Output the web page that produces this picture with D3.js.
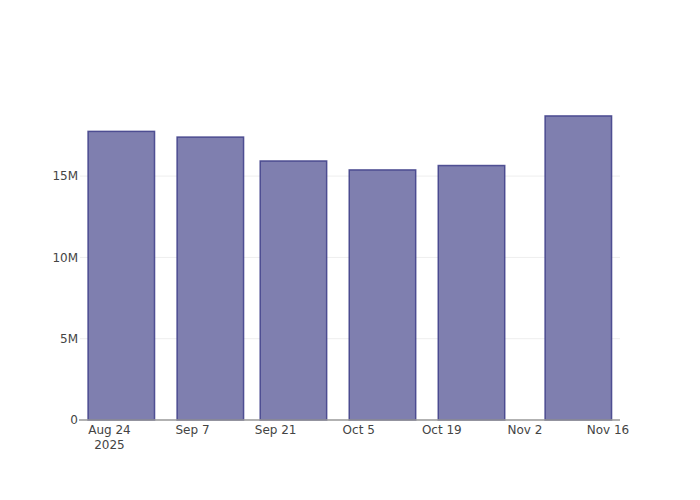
<!DOCTYPE html>
<html>
<head>
<meta charset="utf-8">
<script src="https://cdn.jsdelivr.net/npm/d3@7"></script>
<style>
  html, body { margin: 0; padding: 0; background: #fff; }
  svg text { font-family: "DejaVu Sans", verdana, arial, sans-serif; }
</style>
</head>
<body>
<svg id="chart" width="700" height="500"></svg>
<script>
// Data
const dates = ["2025-08-26", "2025-09-10", "2025-09-24", "2025-10-09", "2025-10-24", "2025-11-11"];
const values = [17.75e6, 17.4e6, 15.93e6, 15.38e6, 15.65e6, 18.7e6];
const xTickDates = ["2025-08-24", "2025-09-07", "2025-09-21", "2025-10-05", "2025-10-19", "2025-11-02", "2025-11-16"];
const xRange = ["2025-08-19T01:00", "2025-11-18T00:30"];
const yTicks = [0, 5e6, 10e6, 15e6];
const yMax = 19.68e6;

const parse = d3.isoParse;
const W = 700, H = 500;
const m = { l: 80, r: 80, t: 100, b: 80 };
const svg = d3.select("#chart");

const x = d3.scaleTime().domain(xRange.map(parse)).range([m.l, W - m.r]);
const y = d3.scaleLinear().domain([0, yMax]).range([H - m.b, m.t]);

// gridlines
svg.append("g").selectAll("line").data(yTicks.filter(d => d > 0)).join("line")
  .attr("x1", m.l).attr("x2", W - m.r)
  .attr("y1", d => y(d)).attr("y2", d => y(d))
  .attr("stroke", "#eee").attr("stroke-width", 1);

// bars: width = min spacing * 0.8
const ds = dates.map(parse);
let minGap = Infinity;
for (let i = 1; i < ds.length; i++) minGap = Math.min(minGap, ds[i] - ds[i - 1]);
const halfW = minGap * 0.4;

svg.append("g").selectAll("rect").data(values).join("rect")
  .attr("x", (d, i) => x(new Date(ds[i].getTime() - halfW)))
  .attr("width", (d, i) => x(new Date(ds[i].getTime() + halfW)) - x(new Date(ds[i].getTime() - halfW)))
  .attr("y", d => y(d))
  .attr("height", d => y(0) - y(d))
  .attr("fill", "rgb(127,127,175)")
  .attr("stroke", "rgba(60,60,135,0.85)")
  .attr("stroke-width", 1.5);

// x axis line
svg.append("line")
  .attr("x1", m.l - 1).attr("x2", W - m.r)
  .attr("y1", y(0)).attr("y2", y(0))
  .attr("stroke", "#999").attr("stroke-width", 1.3);

// y axis labels
const fmtY = d => d === 0 ? "0" : (d / 1e6) + "M";
svg.append("g").selectAll("text").data(yTicks).join("text")
  .attr("x", m.l - 2).attr("y", d => y(d))
  .attr("dy", "0.36em")
  .attr("text-anchor", "end")
  .attr("font-size", 12).attr("fill", "#444")
  .text(fmtY);

// x axis labels
const fmtX = d3.timeFormat("%b %-d");
const xg = svg.append("g");
xTickDates.map(parse).forEach((d, i) => {
  xg.append("text")
    .attr("x", x(d)).attr("y", y(0) + 14)
    .attr("text-anchor", "middle")
    .attr("font-size", 12).attr("fill", "#444")
    .text(fmtX(d));
  if (i === 0) {
    xg.append("text")
      .attr("x", x(d)).attr("y", y(0) + 29)
      .attr("text-anchor", "middle")
      .attr("font-size", 12).attr("fill", "#444")
      .text(d3.timeFormat("%Y")(d));
  }
});
</script>
</body>
</html>
